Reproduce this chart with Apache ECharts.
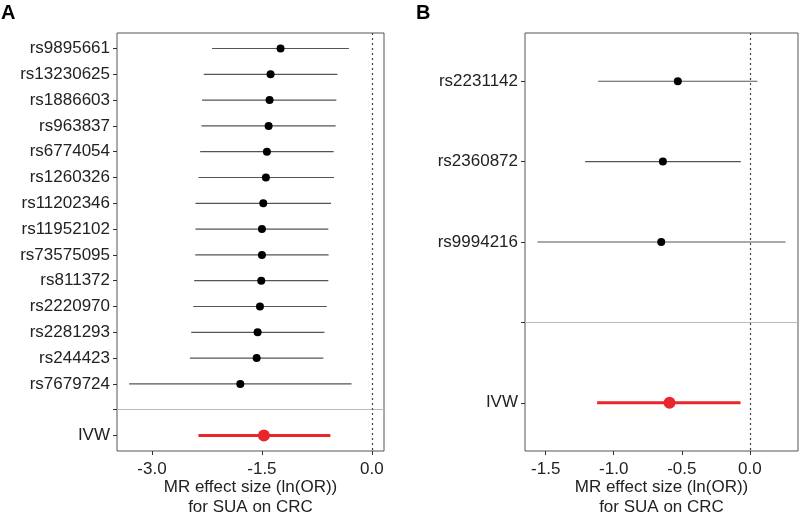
<!DOCTYPE html>
<html>
<head>
<meta charset="utf-8">
<script src="https://cdn.jsdelivr.net/npm/echarts@6/dist/echarts.min.js"></script>
<style>
  html, body { margin: 0; padding: 0; background: #fff; }
  #main { width: 800px; height: 514px; }
</style>
</head>
<body>
<div id="main"></div>
<script>
// panel A: SNP estimates
var snpA = ['rs9895661', 'rs13230625', 'rs1886603', 'rs963837', 'rs6774054', 'rs1260326',
  'rs11202346', 'rs11952102', 'rs73575095', 'rs811372', 'rs2220970', 'rs2281293',
  'rs244423', 'rs7679724'];
var betaA = [-1.246, -1.382, -1.396, -1.409, -1.432, -1.446, -1.482, -1.500, -1.500, -1.509, -1.527, -1.559, -1.572, -1.795];
var lowA = [-2.180, -2.293, -2.316, -2.325, -2.343, -2.366, -2.407, -2.407, -2.410, -2.424, -2.438, -2.465, -2.483, -3.312];
var upA = [-0.313, -0.471, -0.485, -0.494, -0.521, -0.517, -0.557, -0.594, -0.590, -0.594, -0.616, -0.648, -0.662, -0.277];
var ivwA = [-1.473, -2.366, -0.566]; // beta, low, up
var ticksA = [-3.0, -1.5, 0.0];

// panel B
var snpB = ['rs2231142', 'rs2360872', 'rs9994216'];
var betaB = [-0.529, -0.639, -0.651];
var lowB = [-1.115, -1.210, -1.561];
var upB = [0.056, -0.066, 0.263];
var ivwB = [-0.590, -1.122, -0.068];
var ticksB = [-1.5, -1.0, -0.5, 0.0];

var axisTitle = 'MR effect size (ln(OR))\nfor SUA on CRC';
var font = 'Liberation Sans, Arial, Helvetica, sans-serif';

var chart = echarts.init(document.getElementById('main'));

// x range like ggplot: data range incl. 0, expanded 5% each side
function xRange(low, up) {
  var lo = Math.min.apply(null, low.concat([0]));
  var hi = Math.max.apply(null, up.concat([0]));
  var pad = (hi - lo) * 0.05;
  return [lo - pad, hi + pad];
}

function buildPanel(k, snps, beta, low, up, ivw, ticks) {
  var labels = snps.concat(['', 'IVW']);
  var idx = labels.map(function (d, i) { return i; });
  var sepIdx = snps.length;
  var ivwIdx = snps.length + 1;
  var rng = xRange(low.concat([ivw[1]]), up.concat([ivw[2]]));

  var xAxis = {
    type: 'value', gridIndex: k, min: rng[0], max: rng[1],
    axisLine: { show: false, onZero: false },
    splitLine: { show: false },
    axisTick: { customValues: ticks, length: 4, lineStyle: { color: '#333' } },
    axisLabel: {
      customValues: ticks, margin: 10, color: '#222', fontSize: 17, fontFamily: font,
      formatter: function (v) { return v.toFixed(1); }
    },
    name: axisTitle, nameLocation: 'middle', nameGap: 26, nameMoveOverlap: false,
    nameTextStyle: { color: '#222', fontSize: 17, fontFamily: font, lineHeight: 20 }
  };
  var yAxis = {
    type: 'value', gridIndex: k, inverse: true, min: -0.6, max: labels.length - 0.4,
    axisLine: { show: false, onZero: false },
    splitLine: { show: false },
    axisTick: { customValues: idx, length: 4, lineStyle: { color: '#333' } },
    axisLabel: {
      customValues: idx, margin: 7, color: '#222', fontSize: 17, fontFamily: font,
      formatter: function (v) { return labels[Math.round(v)] || ''; }
    }
  };

  var barData = snps.map(function (s, i) { return [low[i], up[i], i]; });
  function barRender(color, width) {
    return function (params, api) {
      var a = api.coord([api.value(0), api.value(2)]);
      var b = api.coord([api.value(1), api.value(2)]);
      return {
        type: 'line',
        shape: { x1: a[0], y1: a[1], x2: b[0], y2: b[1] },
        style: { stroke: color, lineWidth: width }
      };
    };
  }

  var series = [
    {
      type: 'custom', xAxisIndex: k, yAxisIndex: k,
      data: barData, encode: { x: [0, 1], y: 2 },
      renderItem: barRender('#555', 1.2),
      silent: true,
      markLine: {
        silent: true, symbol: 'none', label: { show: false },
        data: [
          { yAxis: sepIdx, lineStyle: { color: '#bbb', width: 1, type: 'solid' } },
          { xAxis: 0, lineStyle: { color: '#444', width: 1.2, type: [2, 3] } }
        ]
      }
    },
    {
      type: 'custom', xAxisIndex: k, yAxisIndex: k,
      data: [[ivw[1], ivw[2], ivwIdx]], encode: { x: [0, 1], y: 2 },
      renderItem: barRender('#e8262b', 3),
      silent: true
    },
    {
      type: 'scatter', xAxisIndex: k, yAxisIndex: k,
      data: beta.map(function (b, i) { return [b, i]; }),
      symbolSize: 8, itemStyle: { color: '#000', opacity: 1 }, silent: true
    },
    {
      type: 'scatter', xAxisIndex: k, yAxisIndex: k,
      data: [[ivw[0], ivwIdx]],
      symbolSize: 12, itemStyle: { color: '#e8262b', opacity: 1 }, silent: true
    }
  ];
  return { xAxis: xAxis, yAxis: yAxis, series: series };
}

var pA = buildPanel(0, snpA, betaA, lowA, upA, ivwA, ticksA);
var pB = buildPanel(1, snpB, betaB, lowB, upB, ivwB, ticksB);

var option = {
  animation: false,
  backgroundColor: '#fff',
  graphic: [
    { type: 'text', left: 1, top: 3, style: { text: 'A', fontSize: 20, fontWeight: 'bold', fontFamily: font, fill: '#000' } },
    { type: 'text', left: 416, top: 3, style: { text: 'B', fontSize: 20, fontWeight: 'bold', fontFamily: font, fill: '#000' } }
  ],
  grid: [
    { left: 117, top: 33, width: 267, height: 418, outerBoundsMode: 'none', containLabel: false,
      show: true, borderColor: '#555', borderWidth: 1, backgroundColor: 'transparent' },
    { left: 525, top: 33, width: 273, height: 418, outerBoundsMode: 'none', containLabel: false,
      show: true, borderColor: '#555', borderWidth: 1, backgroundColor: 'transparent' }
  ],
  xAxis: [pA.xAxis, pB.xAxis],
  yAxis: [pA.yAxis, pB.yAxis],
  series: pA.series.concat(pB.series)
};

chart.setOption(option);
</script>
</body>
</html>
